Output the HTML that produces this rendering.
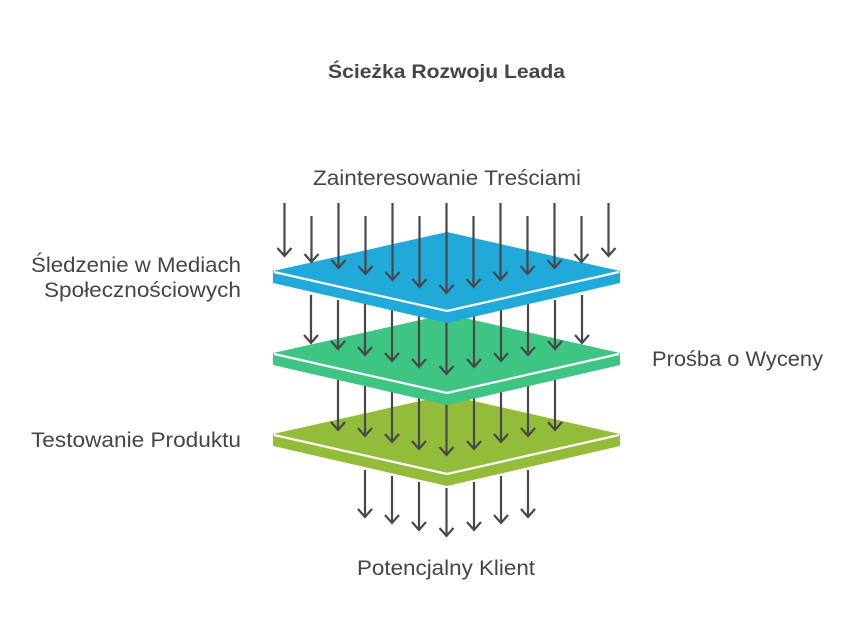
<!DOCTYPE html>
<html><head><meta charset="utf-8"><style>html,body{margin:0;padding:0;background:#fff}svg{display:block}</style></head>
<body>
<svg width="867" height="637" viewBox="0 0 867 637" xmlns="http://www.w3.org/2000/svg" font-family="'Liberation Sans', sans-serif">
<!-- lime plate -->
<g>
<polygon points="273,434 273,446 447,486 620,446 620,434 447,395" fill="#93bc3a"/>
<polyline points="274,435 447,474 619,435" fill="none" stroke="#fff" stroke-width="2.2"/>
</g>
<!-- layer 3 arrows -->
<g stroke="#484848" stroke-width="2.2" fill="none">
<path d="M338,380V430M331,422L338,430L345,422"/>
<path d="M365,380V436M358,428L365,436L372,428"/>
<path d="M392,380V442M385,434L392,442L399,434"/>
<path d="M419,380V449M412,441L419,449L426,441"/>
<path d="M446.5,380V455M439.5,447L446.5,455L453.5,447"/>
<path d="M474,380V449M467,441L474,449L481,441"/>
<path d="M501,380V442M494,434L501,442L508,434"/>
<path d="M528,380V436M521,428L528,436L535,428"/>
<path d="M555,380V430M548,422L555,430L562,422"/>
</g>
<!-- layer 4 arrows -->
<g stroke="#484848" stroke-width="2.2" fill="none">
<path d="M365,470V517M358,509L365,517L372,509"/>
<path d="M392,476V523M385,515L392,523L399,515"/>
<path d="M419,482V530M412,522L419,530L426,522"/>
<path d="M446.5,488V536M439.5,528L446.5,536L453.5,528"/>
<path d="M474,482V530M467,522L474,530L481,522"/>
<path d="M501,476V523M494,515L501,523L508,515"/>
<path d="M528,470V517M521,509L528,517L535,509"/>
</g>
<!-- green plate -->
<g>
<polygon points="273,353 273,365 447,405 620,365 620,353 447,314" fill="#3ec584"/>
<polyline points="274,354 447,393 619,354" fill="none" stroke="#fff" stroke-width="2.2"/>
</g>
<!-- layer 2 arrows -->
<g stroke="#484848" stroke-width="2.2" fill="none">
<path d="M311,295V343M304,335L311,343L318,335"/>
<path d="M338,300V349M331,341L338,349L345,341"/>
<path d="M365,300V355M358,347L365,355L372,347"/>
<path d="M392,300V361M385,353L392,361L399,353"/>
<path d="M419,300V367M412,359L419,367L426,359"/>
<path d="M446.5,300V374M439.5,366L446.5,374L453.5,366"/>
<path d="M474,300V367M467,359L474,367L481,359"/>
<path d="M501,300V361M494,353L501,361L508,353"/>
<path d="M528,300V355M521,347L528,355L535,347"/>
<path d="M555,300V349M548,341L555,349L562,341"/>
<path d="M582,295V343M575,335L582,343L589,335"/>
</g>
<!-- blue plate -->
<g>
<polygon points="273,271 273,283 447,323 620,283 620,271 447,232" fill="#20a9d9"/>
<polyline points="274,272 447,311 619,272" fill="none" stroke="#fff" stroke-width="2.2"/>
</g>
<!-- layer 1 arrows -->
<g stroke="#484848" stroke-width="2.2" fill="none">
<path d="M284.5,203V256M277.5,248L284.5,256L291.5,248"/>
<path d="M311.5,216V262M304.5,254L311.5,262L318.5,254"/>
<path d="M338.5,203V268M331.5,260L338.5,268L345.5,260"/>
<path d="M365.5,216V274M358.5,266L365.5,274L372.5,266"/>
<path d="M392.5,203V280M385.5,272L392.5,280L399.5,272"/>
<path d="M419.5,216V287M412.5,279L419.5,287L426.5,279"/>
<path d="M446.5,203V293M439.5,285L446.5,293L453.5,285"/>
<path d="M473.5,216V287M466.5,279L473.5,287L480.5,279"/>
<path d="M500.5,203V280M493.5,272L500.5,280L507.5,272"/>
<path d="M527.5,216V274M520.5,266L527.5,274L534.5,266"/>
<path d="M554.5,203V268M547.5,260L554.5,268L561.5,260"/>
<path d="M581.5,216V262M574.5,254L581.5,262L588.5,254"/>
<path d="M608.5,203V256M601.5,248L608.5,256L615.5,248"/>
</g>
<!-- text -->
<g fill="#454545">
<text x="328" y="78" font-size="19" font-weight="bold" textLength="237" lengthAdjust="spacingAndGlyphs">Ścieżka Rozwoju Leada</text>
<text x="313" y="185" font-size="21" textLength="268" lengthAdjust="spacingAndGlyphs">Zainteresowanie Treściami</text>
<text x="31" y="272" font-size="21" textLength="210" lengthAdjust="spacingAndGlyphs">Śledzenie w Mediach</text>
<text x="44" y="297" font-size="21" textLength="197" lengthAdjust="spacingAndGlyphs">Społecznościowych</text>
<text x="652" y="366" font-size="21" textLength="171" lengthAdjust="spacingAndGlyphs">Prośba o Wyceny</text>
<text x="31" y="447" font-size="21" textLength="210" lengthAdjust="spacingAndGlyphs">Testowanie Produktu</text>
<text x="357" y="575" font-size="21" textLength="178" lengthAdjust="spacingAndGlyphs">Potencjalny Klient</text>
</g>
</svg>
</body></html>
